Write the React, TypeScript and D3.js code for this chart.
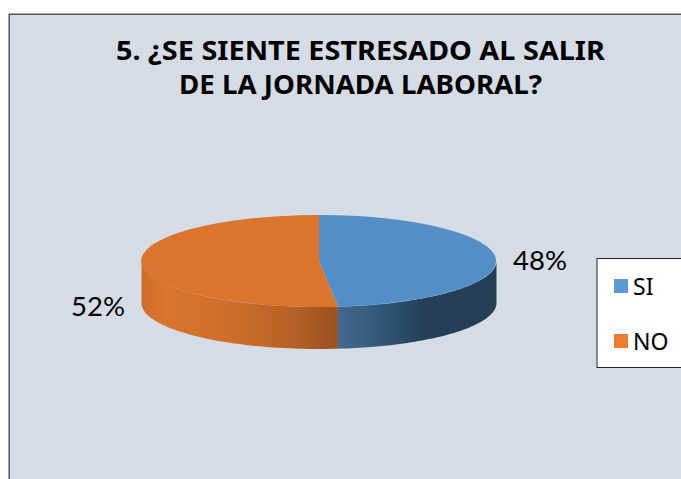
import React from "react";
import * as d3 from "d3";

const categories = ["SI", "NO"];
const values = [48.3, 51.7];
const topColors = ["#538fc6", "#db742c"];
const legendColors = ["#5b9bd5", "#ed7d31"];
const titleLines = ["5. ¿SE SIENTE ESTRESADO AL SALIR", "DE LA JORNADA LABORAL?"];

const cx = 319, cy = 261, rx = 177.5, ry = 46, depth = 42;

const pie = d3.pie<number>().sort(null);
const arcs = pie(values);
const topArc = d3.arc<d3.PieArcDatum<number>>().innerRadius(0).outerRadius(1);

// side wall outline for the visible (front) part of a slice, angles clockwise from 12 o'clock
function sidePath(a0: number, a1: number): string {
  const start = Math.max(a0, Math.PI / 2);
  const end = Math.min(a1, (3 * Math.PI) / 2);
  const n = 60;
  const angles = d3.range(n + 1).map((i) => start + ((end - start) * i) / n);
  const line = d3.line<[number, number]>();
  const top = angles.map((a): [number, number] => [cx + rx * Math.sin(a), cy - ry * Math.cos(a)]);
  const bottom = angles
    .slice()
    .reverse()
    .map((a): [number, number] => [cx + rx * Math.sin(a), cy - ry * Math.cos(a) + depth]);
  return line([...top, ...bottom]) + "Z";
}

const fontTitle = "'Noto Sans', 'Open Sans', sans-serif";
const fontLabel = "Lato, 'Open Sans', sans-serif";
const fontLegend = "'Noto Sans', sans-serif";

export default function App() {
  return (
    <svg
      width={681}
      height={479}
      style={{ position: "fixed", left: 0, top: 0, background: "#fff" }}
    >
      <defs>
        <linearGradient id="sideBlue" gradientUnits="userSpaceOnUse" x1={338} x2={496} y1={0} y2={0}>
          <stop offset="0" stopColor="#43698f" />
          <stop offset="0.25" stopColor="#33597b" />
          <stop offset="0.55" stopColor="#243f56" />
          <stop offset="1" stopColor="#243f56" />
        </linearGradient>
        <linearGradient id="sideOrange" gradientUnits="userSpaceOnUse" x1={142} x2={338} y1={0} y2={0}>
          <stop offset="0" stopColor="#d06c2a" />
          <stop offset="0.12" stopColor="#db742c" />
          <stop offset="0.5" stopColor="#cc6c2a" />
          <stop offset="0.8" stopColor="#b25f26" />
          <stop offset="1" stopColor="#9a5020" />
        </linearGradient>
      </defs>
      <rect x={9.25} y={14.25} width={690} height={480} fill="#d6dce5" stroke="#555" strokeWidth={1.5} />
      <text fontFamily={fontTitle} fontWeight="bold" fontSize={26} fill="#000" textAnchor="middle">
        <tspan x={360.5} y={60} textLength={489} lengthAdjust="spacingAndGlyphs">{titleLines[0]}</tspan>
        <tspan x={360.5} y={94} textLength={363} lengthAdjust="spacingAndGlyphs">{titleLines[1]}</tspan>
      </text>

      {arcs.map((d, i) => (
        <path key={"side" + i} d={sidePath(d.startAngle, d.endAngle)} fill={i === 0 ? "url(#sideBlue)" : "url(#sideOrange)"} />
      ))}
      <g transform={`translate(${cx},${cy}) scale(${rx},${ry})`}>
        {arcs.map((d, i) => (
          <path key={"top" + i} d={topArc(d) as string} fill={topColors[i]} />
        ))}
      </g>

      <text x={540} y={270} fontFamily={fontLabel} fontSize={27.5} fill="#000" textAnchor="middle">
        {Math.round(values[0])}%
      </text>
      <text x={98} y={316} fontFamily={fontLabel} fontSize={27.5} fill="#000" textAnchor="middle">
        {Math.round(values[1])}%
      </text>

      <rect x={597} y={258.5} width={90} height={109} fill="#fff" stroke="#222" strokeWidth={1} />
      {categories.map((c, i) => (
        <g key={c}>
          <rect x={614} y={279 + i * 55} width={14} height={14} fill={legendColors[i]} />
          <text x={633} y={295 + i * 55} fontFamily={fontLegend} fontSize={23} fill="#000">
            {c}
          </text>
        </g>
      ))}
    </svg>
  );
}
